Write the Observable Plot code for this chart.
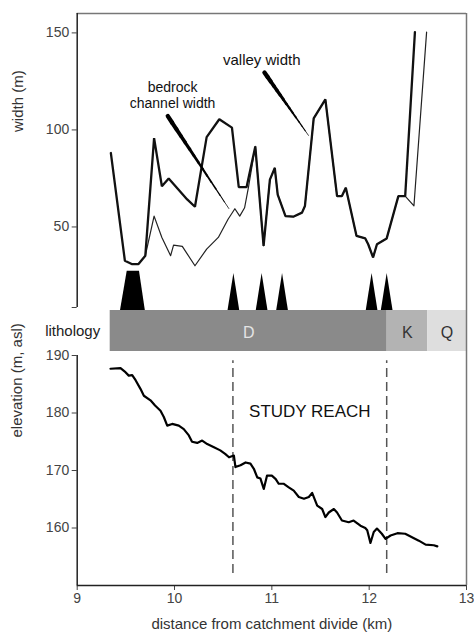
<!DOCTYPE html>
<html>
<head>
<meta charset="utf-8">
<script src="https://cdn.jsdelivr.net/npm/d3@7"></script>
<script src="https://cdn.jsdelivr.net/npm/@observablehq/plot@0.6"></script>
<style>
  html, body { margin: 0; padding: 0; background: #fff; }
  #chart { width: 474px; height: 635px; overflow: hidden; font-family: "Liberation Sans", Arial, sans-serif; }
  #chart svg { display: block; }
</style>
</head>
<body>
<div id="chart"></div>
<script>
// ---- Top panel: widths (m) vs distance (km) ----
const valleyX = [9.346, 9.49, 9.56, 9.63, 9.70, 9.79, 9.87, 9.94, 10.13, 10.21, 10.33, 10.46, 10.59, 10.66, 10.74, 10.83, 10.915, 10.98, 11.03, 11.06, 11.14, 11.22, 11.31, 11.34, 11.43, 11.55, 11.67, 11.72, 11.76, 11.87, 11.96, 11.99, 12.04, 12.08, 12.18, 12.30, 12.37, 12.47];
const valleyW = [88.1, 32.6, 30.9, 30.9, 35.2, 95.8, 71.0, 75.0, 64.2, 60.4, 96.3, 105.5, 101.2, 70.5, 70.5, 91.5, 40.3, 74.4, 80.4, 66.7, 55.6, 55.3, 57.4, 60.8, 106.0, 115.7, 65.9, 65.9, 70.2, 45.4, 44.1, 41.1, 34.3, 41.1, 44.1, 65.9, 65.9, 150.4];

const bedrockX = [9.70, 9.79, 9.87, 9.96, 9.99, 10.08, 10.21, 10.33, 10.45, 10.55, 10.62, 10.67, 10.72, 10.76, 10.83, 10.915, 10.98, 11.03, 11.06, 11.14, 11.22, 11.31, 11.34, 11.43, 11.55, 11.67, 11.72, 11.76, 11.87, 11.96, 11.99, 12.04, 12.08, 12.18, 12.30, 12.37, 12.46, 12.59];
const bedrockW = [35.2, 55.6, 44.6, 35.2, 40.6, 40.0, 30.0, 38.6, 44.6, 54.0, 59.4, 55.6, 59.9, 70.5, 91.5, 40.3, 74.4, 80.4, 66.7, 55.6, 55.3, 57.4, 60.8, 106.0, 115.7, 65.9, 65.9, 70.2, 45.4, 44.1, 41.1, 34.3, 41.1, 44.1, 65.9, 65.9, 60.9, 150.4];

// knickpoints (km) and the wide knick zone (km)
const knickX = [10.61, 10.90, 11.11, 12.03, 12.185];
const knickZone = [9.445, 9.514, 9.64, 9.70];

const widthTicks = [50, 100, 150];

// annotation anchors (km, m)
const valleyLabel = {text: "valley width", x: 10.896, y: 135.7};
const valleyLeader = {x1: 10.924, y1: 129.6, x2: 11.376, y2: 97.2};
const bedrockLabel = {text: "bedrock\nchannel width", x: 9.98, y: 118.2};
const bedrockLeader = {x1: 9.931, y1: 107.1, x2: 10.558, y2: 59.5};

// ---- Lithology ----
const lithoUnits = ["D", "K", "Q"];
const lithoStart = [9.339, 12.185, 12.60];
const lithoEnd = [12.185, 12.60, 13.0];

// ---- Bottom panel: elevation (m asl) vs distance (km) ----
const elevX = [9.342, 9.445, 9.496, 9.53, 9.565, 9.60, 9.65, 9.685, 9.753, 9.80, 9.856, 9.89, 9.925, 9.976, 10.044, 10.095, 10.147, 10.18, 10.233, 10.284, 10.336, 10.40, 10.47, 10.52, 10.56, 10.61, 10.626, 10.678, 10.73, 10.78, 10.815, 10.85, 10.883, 10.917, 10.95, 11.0, 11.04, 11.07, 11.12, 11.17, 11.225, 11.277, 11.33, 11.38, 11.414, 11.466, 11.517, 11.55, 11.585, 11.637, 11.67, 11.72, 11.79, 11.84, 11.91, 11.96, 11.98, 12.013, 12.047, 12.08, 12.13, 12.168, 12.22, 12.29, 12.37, 12.44, 12.51, 12.58, 12.664, 12.70];
const elevY = [187.7, 187.8, 187.1, 186.5, 186.6, 185.7, 184.2, 183.0, 182.2, 181.3, 180.4, 179.3, 177.8, 178.1, 177.8, 177.2, 176.1, 175.0, 174.8, 175.2, 174.6, 174.1, 173.5, 172.9, 172.3, 172.6, 170.6, 170.9, 171.4, 171.2, 170.3, 168.8, 168.6, 166.8, 169.1, 169.1, 168.5, 167.7, 167.7, 167.1, 166.5, 165.4, 165.1, 165.4, 166.1, 163.9, 163.3, 161.9, 162.7, 163.3, 162.7, 161.3, 161.0, 161.3, 160.4, 160.0, 159.6, 157.4, 159.3, 159.9, 159.0, 158.1, 158.7, 159.1, 159.0, 158.4, 157.8, 157.1, 157.0, 156.8];
const elevTicks = [160, 170, 180, 190];
const distTicks = [9, 10, 11, 12, 13];
const studyReach = [10.6, 12.18];
const studyLabel = {text: "STUDY REACH", x: 11.39, y: 180.3};

// ---------- build ----------
const FONT = '"Liberation Sans", Arial, sans-serif';
const ML = 76.7, MR = 8;
const baseStyle = {fontFamily: FONT, fontSize: "14px", color: "#444", background: "white", overflow: "visible"};

const valleyData = valleyX.map((x, i) => ({x, y: valleyW[i]}));
const bedrockData = bedrockX.map((x, i) => ({x, y: bedrockW[i]}));

// knickpoint glyph polygons
const KB = 7, KA = 26.0, KZ = 27.2, HW = 0.06;
const knickPolys = [];
knickX.forEach((c, i) => {
  knickPolys.push({id: i, x: c - HW, y: KB}, {id: i, x: c, y: KA}, {id: i, x: c + HW, y: KB});
});
knickPolys.push({id: "z", x: knickZone[0], y: KB}, {id: "z", x: knickZone[1], y: KZ}, {id: "z", x: knickZone[2], y: KZ}, {id: "z", x: knickZone[3], y: KB});

// tapering leader lines built from segments
function wedge(l, w0, w1, n = 14) {
  const segs = [];
  for (let i = 0; i < n; i++) {
    const t0 = i / n, t1 = (i + 1) / n;
    segs.push({
      x1: l.x1 + (l.x2 - l.x1) * t0, y1: l.y1 + (l.y2 - l.y1) * t0,
      x2: l.x1 + (l.x2 - l.x1) * t1, y2: l.y1 + (l.y2 - l.y1) * t1,
      w: w0 + (w1 - w0) * (i + 0.5) / n
    });
  }
  return segs;
}

const widthPlot = Plot.plot({
  width: 474, height: 310,
  marginLeft: ML, marginRight: MR, marginTop: 13, marginBottom: 3,
  style: baseStyle,
  x: {domain: [9, 13], axis: null},
  y: {domain: [8.5, 160], ticks: [8.5, ...widthTicks], tickFormat: d => d < 10 ? "" : String(d), tickSize: 5, tickPadding: 3, label: null},
  marks: [
    Plot.ruleY([160], {x1: 9, x2: 13, stroke: "#777", strokeWidth: 1.5}),
    Plot.ruleX([13], {y1: KB, y2: 160, stroke: "#777", strokeWidth: 1.5}),
    Plot.ruleX([9], {y1: 8.5, y2: 160, stroke: "#222", strokeWidth: 1.5}),
    Plot.areaY(knickPolys, {x: "x", y1: KB, y2: "y", z: "id", fill: "#000", curve: "linear"}),
    Plot.line(bedrockData, {x: "x", y: "y", stroke: "#222", strokeWidth: 1.2, curve: "linear"}),
    Plot.line(valleyData, {x: "x", y: "y", stroke: "#111", strokeWidth: 2.3, curve: "linear", strokeLinejoin: "miter"}),
    Plot.link(wedge(valleyLeader, 4.5, 0.6), {x1: "x1", y1: "y1", x2: "x2", y2: "y2", strokeWidth: "w", stroke: "#000", strokeLinecap: "round"}),
    Plot.link(wedge(bedrockLeader, 4.5, 0.6), {x1: "x1", y1: "y1", x2: "x2", y2: "y2", strokeWidth: "w", stroke: "#000", strokeLinecap: "round"}),
    Plot.text([valleyLabel], {x: "x", y: "y", text: "text", fontSize: 15, fill: "#111"}),
    Plot.text([bedrockLabel], {x: "x", y: "y", text: "text", fontSize: 14, lineHeight: 1.15, fill: "#111"}),
    Plot.text(["width (m)"], {frameAnchor: "left", dx: -59, dy: -28.5, rotate: -90, fontSize: 15, fill: "#333"})
  ]
});

const litho = lithoUnits.map((u, i) => ({unit: u, x1: lithoStart[i], x2: lithoEnd[i], mid: (lithoStart[i] + lithoEnd[i]) / 2}));
const lithoFill = {D: "#8a8a8a", K: "#b3b3b3", Q: "#dedede"};
const lithoText = {D: "#e4e4e4", K: "#333", Q: "#333"};

const lithoPlot = Plot.plot({
  width: 474, height: 41,
  marginLeft: ML, marginRight: MR, marginTop: 0, marginBottom: 0,
  style: baseStyle,
  x: {domain: [9, 13], axis: null},
  y: {domain: [0, 1], axis: null},
  marks: [
    Plot.rectY(litho, {x1: "x1", x2: "x2", y1: 0, y2: 1, fill: d => lithoFill[d.unit]}),
    Plot.ruleX([13], {stroke: "#777", strokeWidth: 1.5}),
    Plot.text(litho, {x: "mid", y: 0.45, text: "unit", fill: d => lithoText[d.unit], fontSize: 16}),
    Plot.text(["lithology"], {x: lithoStart[0], y: 0.5, dx: -10, textAnchor: "end", fontSize: 15, fill: "#222"})
  ]
});

const elevData = elevX.map((x, i) => ({x, y: elevY[i]}));

const elevPlot = Plot.plot({
  width: 474, height: 284,
  marginLeft: ML, marginRight: MR, marginTop: 4, marginBottom: 50,
  style: baseStyle,
  x: {domain: [9, 13], ticks: distTicks, tickFormat: d => String(d), tickSize: 5, tickPadding: 3, label: null},
  y: {domain: [150, 190], ticks: elevTicks, tickFormat: d => String(d), tickSize: 5, tickPadding: 3, label: null},
  marks: [
    Plot.ruleX([13], {y1: 150, y2: 190.7, stroke: "#777", strokeWidth: 1.5}),
    Plot.ruleX([9], {y1: 150, y2: 190, stroke: "#222", strokeWidth: 1.5}),
    Plot.ruleY([150], {x1: 9, x2: 13, stroke: "#222", strokeWidth: 1.5}),
    Plot.ruleX(studyReach, {y1: 152.1, y2: 189.1, stroke: "#555", strokeWidth: 1.5, strokeDasharray: "9,5"}),
    Plot.line(elevData, {x: "x", y: "y", stroke: "#000", strokeWidth: 2.2, curve: "linear"}),
    Plot.text([studyLabel], {x: "x", y: "y", text: "text", fontSize: 17, fill: "#111"}),
    Plot.text(["elevation (m, asl)"], {frameAnchor: "left", dx: -59.7, dy: -33, rotate: -90, fontSize: 15, fill: "#333"}),
    Plot.text(["distance from catchment divide (km)"], {frameAnchor: "bottom", dy: 43, fontSize: 15, fill: "#333"})
  ]
});

document.getElementById("chart").append(widthPlot, lithoPlot, elevPlot);
</script>
</body>
</html>
